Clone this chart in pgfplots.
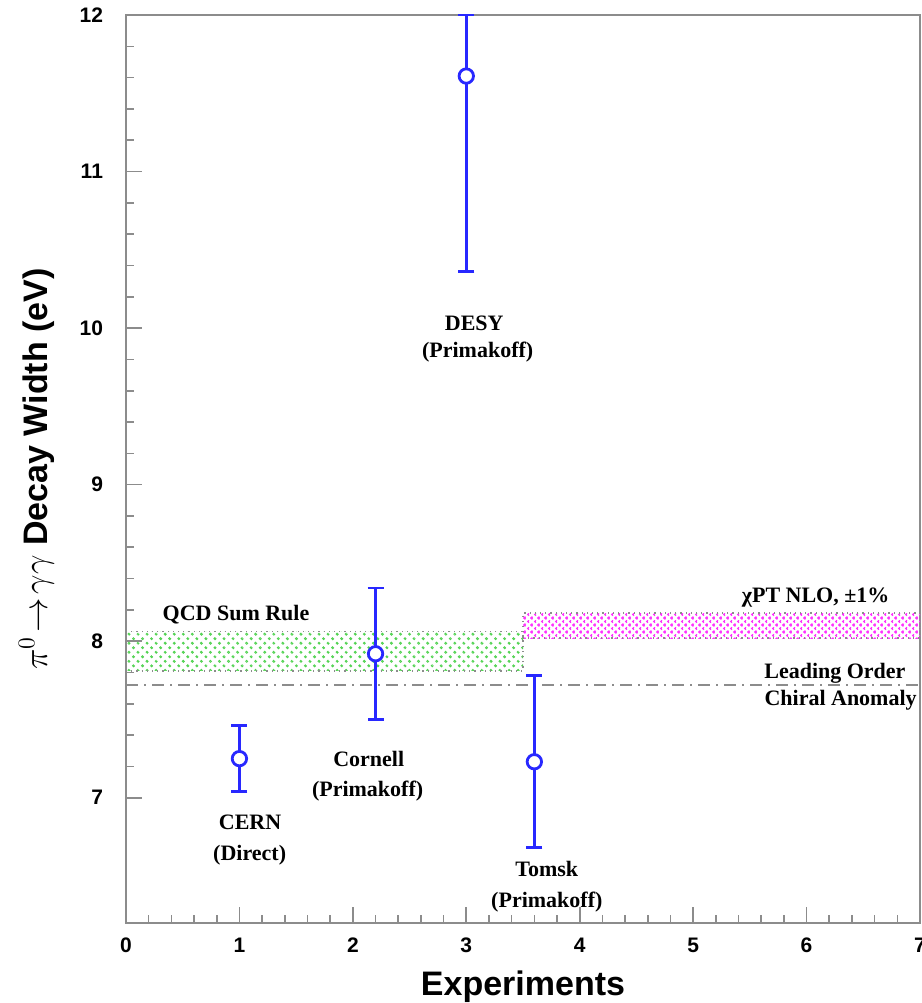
\documentclass[border=0pt]{standalone}
\usepackage{fontspec}
\setmainfont{Liberation Serif}
\setsansfont{Liberation Sans}
\usepackage{pgfplots}
\pgfplotsset{compat=1.18}
\usetikzlibrary{patterns.meta}
\definecolor{ebblue}{RGB}{40,40,255}
\definecolor{hgreen}{RGB}{80,210,80}
\definecolor{hmag}{RGB}{255,50,255}
\definecolor{axgray}{RGB}{140,140,140}
\pgfdeclarepatternformonly{xhatch}{\pgfpoint{-1pt}{-1pt}}{\pgfpoint{4.5pt}{4.5pt}}{\pgfpoint{3.5pt}{3.5pt}}{
  \pgfsetlinewidth{1.2pt}
  \pgfpathmoveto{\pgfpoint{-0.5pt}{-0.5pt}}\pgfpathlineto{\pgfpoint{4pt}{4pt}}
  \pgfpathmoveto{\pgfpoint{-0.5pt}{4pt}}\pgfpathlineto{\pgfpoint{4pt}{-0.5pt}}
  \pgfusepath{stroke}}
\tikzset{lbl/.style={anchor=base, font=\bfseries\fontsize{11}{13}\selectfont}}
\begin{document}
\begin{tikzpicture}
\begin{axis}[name=ax, scale only axis, width=397pt, height=454pt,
  xmin=0, xmax=7, ymin=6.2, ymax=12, clip=false,
  xtick={0,1,2,3,4,5,6,7}, ytick={7,8,9,10,11,12},
  minor x tick num=4, minor y tick num=4,
  tick pos=left, tick align=inside,
  major tick length=8pt, minor tick length=4pt,
  axis line style={axgray, line width=0.8pt},
  tick style={axgray, line width=0.8pt},
  tick label style={font=\sffamily\bfseries\fontsize{10.5}{12}\selectfont},
  /pgf/number format/assume math mode=true,
  xticklabel style={yshift=-4pt}, yticklabel style={xshift=-8pt},
]
% QCD sum rule band
\addplot[draw=axgray, dotted, line width=0.6pt,
  pattern={Lines[angle=-45,distance=3.2pt,line width=1.1pt]}, pattern color=hgreen]
  coordinates {(0,7.81) (3.5,7.81) (3.5,8.06) (0,8.06)} -- cycle;
% ChPT NLO band
\addplot[draw=axgray, dotted, line width=0.6pt,
  pattern=xhatch, pattern color=hmag]
  coordinates {(3.5,8.02) (7,8.02) (7,8.18) (3.5,8.18)} -- cycle;
% leading order
\addplot[axgray, line width=0.6pt, dash pattern=on 6pt off 3pt on 1pt off 3pt]
  coordinates {(0,7.72) (7,7.72)};
% data
\addplot[only marks, mark=*, mark size=3.6pt,
  mark options={draw=ebblue, fill=white, line width=1.4pt},
  error bars/.cd, y dir=both, y explicit,
  error bar style={ebblue, line width=1.4pt},
  error mark options={ebblue, line width=1.4pt, mark size=4pt, rotate=90}]
  coordinates {
  (1,7.25) +- (0,0.21)
  (2.2,7.92) +- (0,0.42)
  (3,11.61) += (0,0.39) -= (0,1.25)
  (3.6,7.23) +- (0,0.55)
  };
\node[lbl] at (axis cs:0.97,8.134) {QCD Sum Rule};
\node[lbl] at (axis cs:6.08,8.25) {χPT NLO, ±1\%};
\node[lbl] at (axis cs:6.25,7.764) {Leading Order};
\node[lbl] at (axis cs:6.30,7.59) {Chiral Anomaly};
\node[lbl] at (axis cs:3.07,9.987) {DESY};
\node[lbl] at (axis cs:3.10,9.81) {(Primakoff)};
\node[lbl] at (axis cs:2.14,7.198) {Cornell};
\node[lbl] at (axis cs:2.13,7.006) {(Primakoff)};
\node[lbl] at (axis cs:1.094,6.80) {CERN};
\node[lbl] at (axis cs:1.09,6.60) {(Direct)};
\node[lbl] at (axis cs:3.71,6.495) {Tomsk};
\node[lbl] at (axis cs:3.71,6.30) {(Primakoff)};
\end{axis}
\node[anchor=base, inner sep=0pt, font=\sffamily\bfseries\fontsize{17}{20}\selectfont]
  at ([yshift=-36pt]ax.south) {Experiments};
\node[rotate=90, anchor=base, inner sep=0pt, font=\sffamily\bfseries\fontsize{17}{20}\selectfont]
  at ([xshift=-39.5pt]ax.west) {$\pi^{0}\!\rightarrow\!\gamma\gamma$ Decay Width (eV)};
\pgfresetboundingbox
\useasboundingbox ([xshift=-63pt,yshift=-40pt]ax.south west) rectangle ([xshift=1pt,yshift=7.5pt]ax.north east);
\end{tikzpicture}
\end{document}
